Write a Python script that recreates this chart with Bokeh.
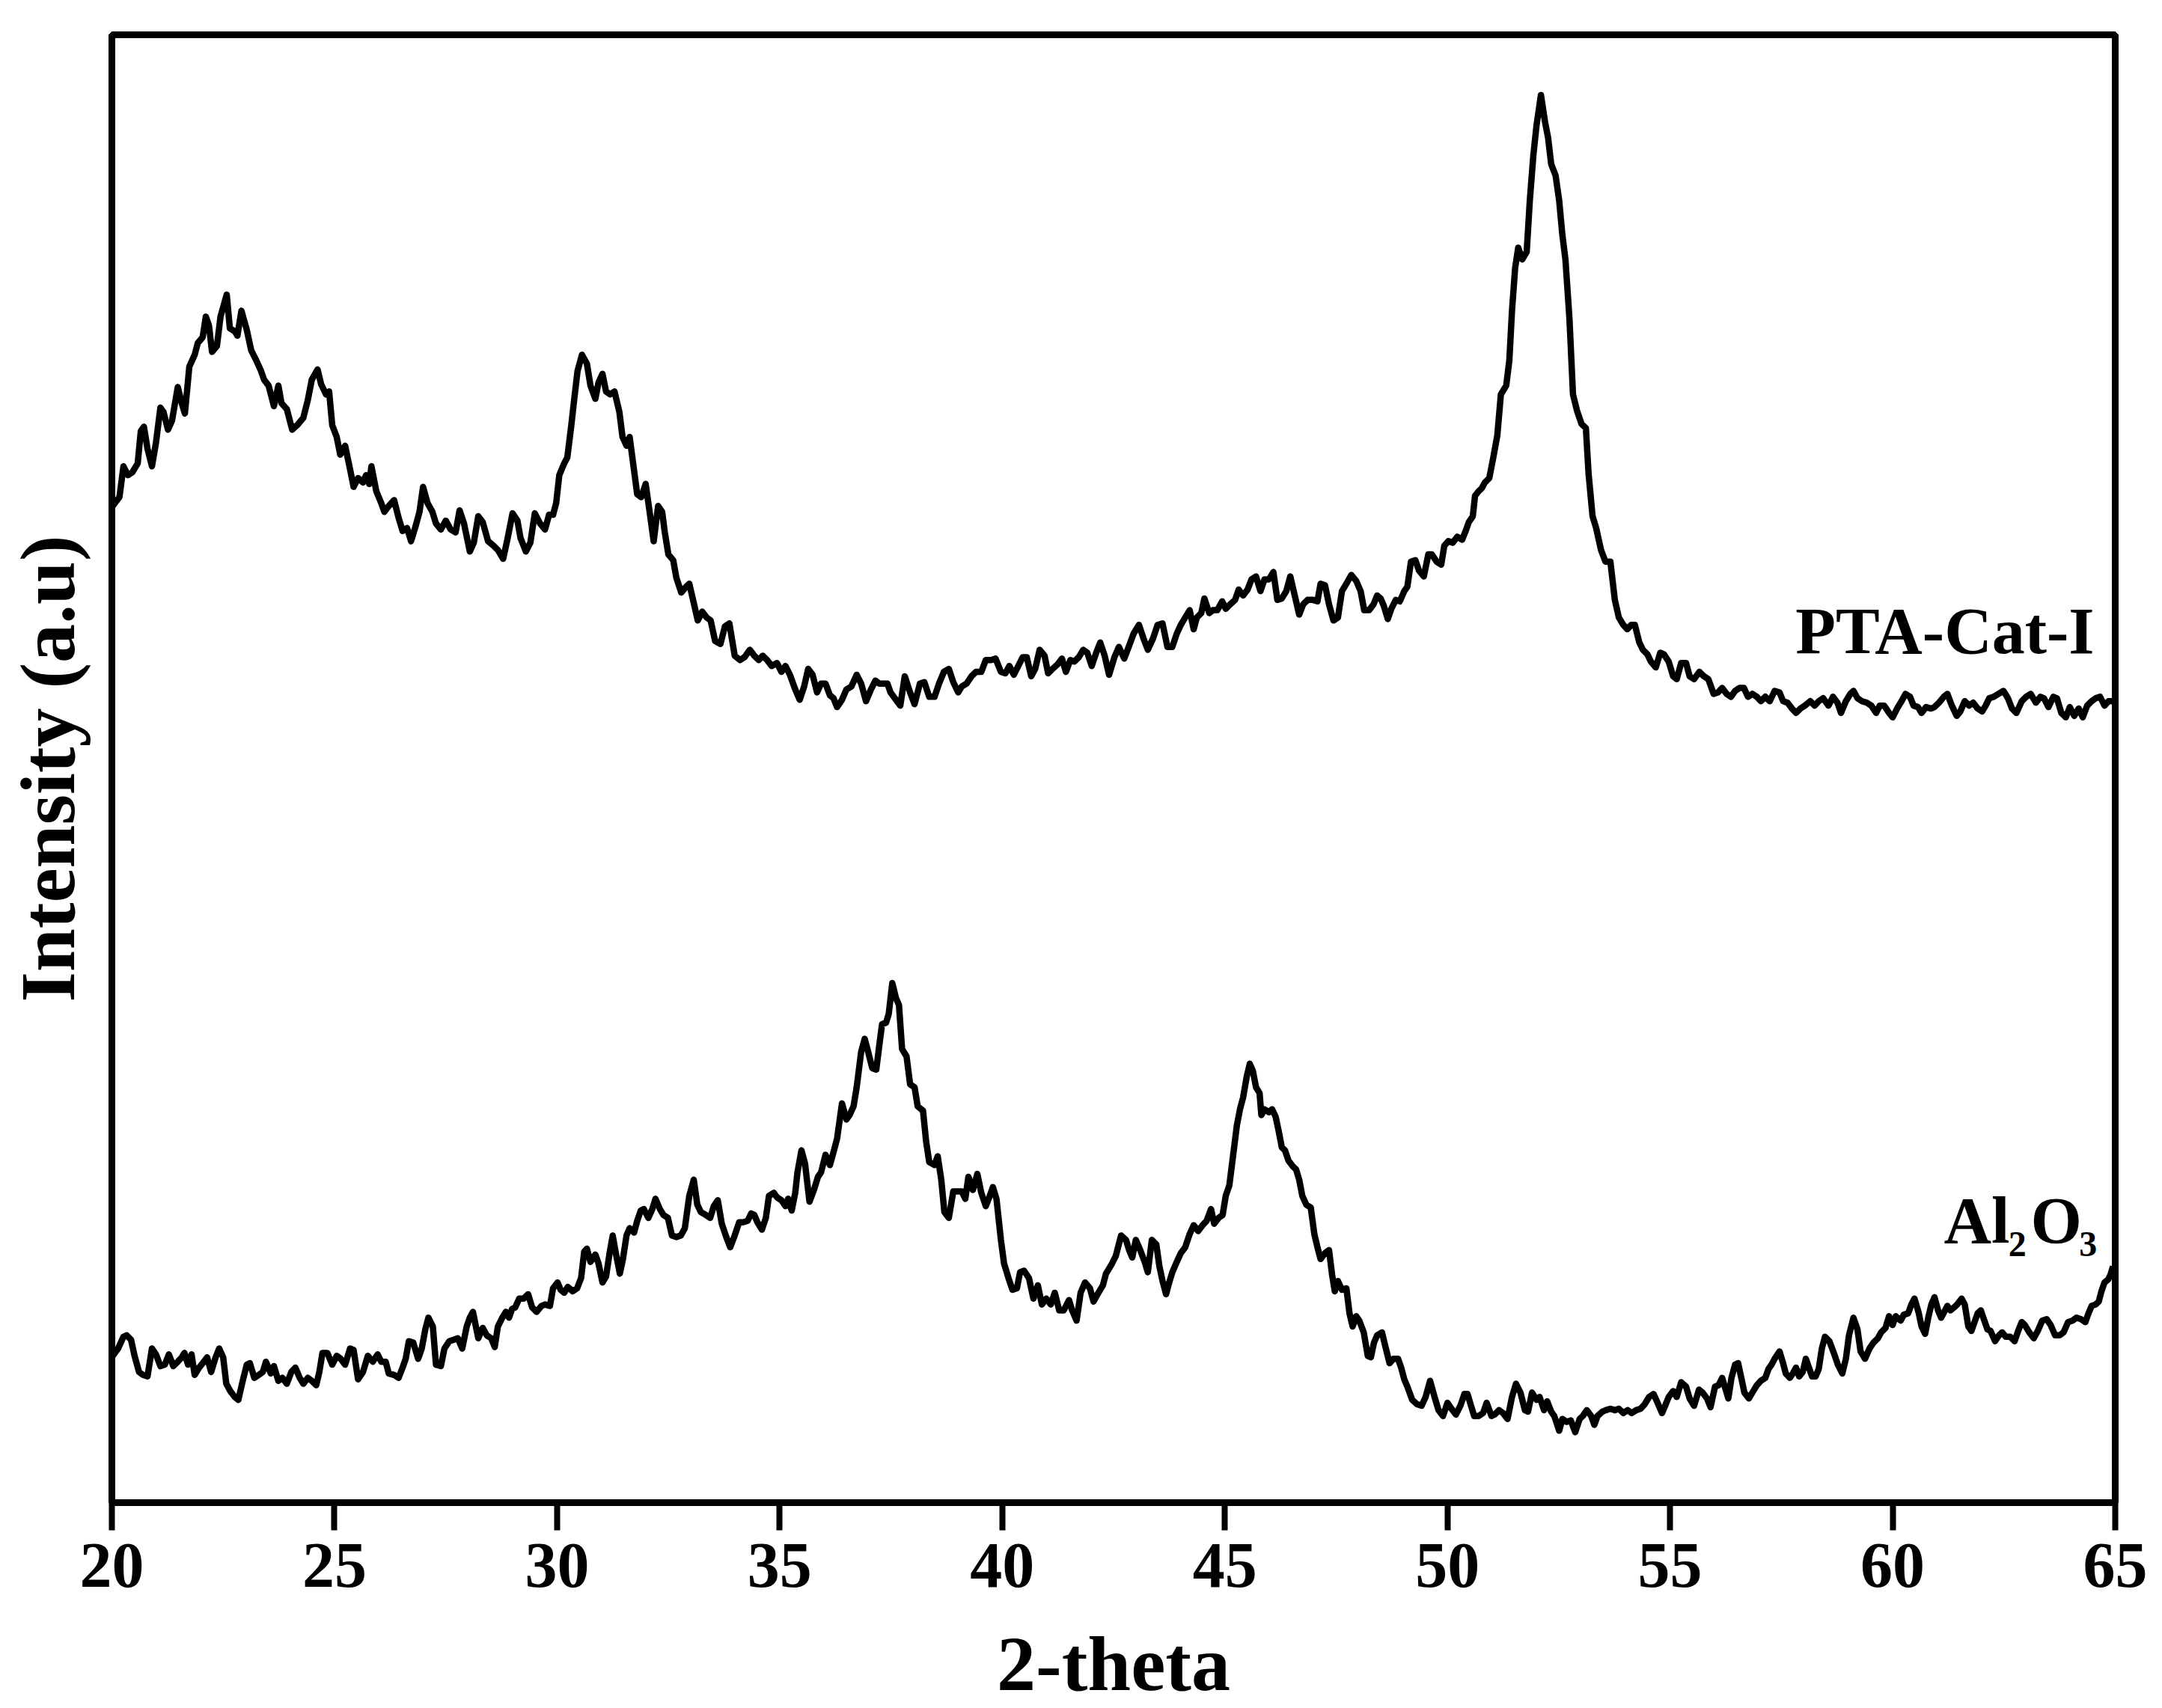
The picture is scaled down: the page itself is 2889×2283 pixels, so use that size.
from bokeh.plotting import figure
from bokeh.models import Range1d, FixedTicker, Label
from bokeh.embed import file_html
from bokeh.resources import INLINE

# ---------------- data ----------------
x_ticks = [20, 25, 30, 35, 40, 45, 50, 55, 60, 65]

two_theta_pta = [
    20.02, 20.17, 20.26, 20.36, 20.46, 20.58, 20.65, 20.72, 20.80, 20.90,
    20.99, 21.09, 21.16, 21.26, 21.35, 21.48, 21.57, 21.64, 21.74, 21.86,
    21.93, 22.04, 22.11, 22.18, 22.25, 22.36, 22.44, 22.58, 22.65, 22.76,
    22.82, 22.91, 23.03, 23.13, 23.23, 23.35, 23.42, 23.52, 23.64, 23.74,
    23.81, 23.93, 24.05, 24.16, 24.30, 24.40, 24.49, 24.62, 24.70, 24.81,
    24.88, 24.95, 25.05, 25.13, 25.24, 25.35, 25.43, 25.53, 25.64, 25.71,
    25.78, 25.83, 25.94, 26.05, 26.12, 26.22, 26.34, 26.44, 26.53, 26.63,
    26.72, 26.82, 26.91, 26.99, 27.09, 27.20, 27.28, 27.39, 27.50, 27.61,
    27.72, 27.81, 27.91, 28.04, 28.13, 28.23, 28.33, 28.45, 28.57, 28.67,
    28.79, 28.89, 29.00, 29.11, 29.18, 29.30, 29.40, 29.50, 29.62, 29.73,
    29.82, 29.91, 29.98, 30.05, 30.16, 30.23, 30.32, 30.39, 30.46, 30.56,
    30.67, 30.75, 30.86, 30.93, 31.02, 31.10, 31.19, 31.29, 31.40, 31.47,
    31.56, 31.63, 31.70, 31.80, 31.89, 31.99, 32.07, 32.17, 32.27, 32.36,
    32.42, 32.50, 32.61, 32.68, 32.79, 32.90, 32.97, 33.07, 33.16, 33.26,
    33.36, 33.45, 33.55, 33.67, 33.77, 33.87, 33.99, 34.11, 34.21, 34.33,
    34.43, 34.53, 34.62, 34.72, 34.82, 34.94, 35.04, 35.13, 35.23, 35.35,
    35.45, 35.55, 35.64, 35.74, 35.84, 35.93, 36.03, 36.13, 36.21, 36.29,
    36.40, 36.50, 36.61, 36.73, 36.83, 36.94, 37.05, 37.15, 37.24, 37.34,
    37.42, 37.49, 37.61, 37.71, 37.81, 37.93, 38.03, 38.15, 38.25, 38.36,
    38.48, 38.58, 38.69, 38.80, 38.90, 39.01, 39.09, 39.20, 39.31, 39.41,
    39.53, 39.63, 39.75, 39.85, 39.97, 40.07, 40.16, 40.26, 40.36, 40.46,
    40.55, 40.65, 40.74, 40.84, 40.95, 41.03, 41.13, 41.24, 41.34, 41.43,
    41.53, 41.62, 41.72, 41.82, 41.91, 42.01, 42.11, 42.20, 42.30, 42.40,
    42.52, 42.62,
    42.74, 42.84, 42.95, 43.07, 43.17, 43.27, 43.39, 43.49, 43.60, 43.71,
    43.82, 43.92, 44.01, 44.11, 44.21, 44.30, 44.37, 44.47, 44.54, 44.65,
    44.73, 44.83, 44.94, 45.02, 45.12, 45.23, 45.31, 45.41, 45.51, 45.60,
    45.70, 45.80, 45.89, 45.99, 46.09, 46.18, 46.28, 46.38, 46.47, 46.57,
    46.67, 46.76, 46.86, 46.98, 47.08, 47.15, 47.25, 47.34, 47.44, 47.54,
    47.63, 47.73, 47.84, 47.95, 48.05, 48.13, 48.24, 48.34, 48.42, 48.50,
    48.57, 48.66, 48.74, 48.84, 48.93, 49.03, 49.10, 49.18, 49.28, 49.36,
    49.47, 49.57, 49.65, 49.76, 49.86, 49.93, 50.02, 50.12, 50.22, 50.33,
    50.41, 50.48, 50.57, 50.62, 50.70, 50.77, 50.84, 50.94, 51.03, 51.12,
    51.20, 51.32, 51.39, 51.45, 51.52, 51.59, 51.68, 51.78, 51.85, 51.93,
    52.00, 52.10, 52.19, 52.26, 52.33, 52.43, 52.51, 52.58, 52.65, 52.74,
    52.82, 52.91, 53.01, 53.11, 53.17, 53.26, 53.34, 53.45, 53.55, 53.66,
    53.76, 53.85, 53.95, 54.04, 54.13, 54.21, 54.31, 54.39, 54.49, 54.57,
    54.68, 54.78, 54.86, 54.97, 55.07, 55.15, 55.25, 55.36, 55.44, 55.54,
    55.66, 55.76, 55.86, 55.98, 56.08, 56.17, 56.27, 56.37, 56.46, 56.56,
    56.66, 56.75, 56.85, 56.95, 57.04, 57.14, 57.24, 57.35, 57.46, 57.54,
    57.64, 57.74, 57.83, 57.93, 58.03, 58.15, 58.25, 58.34, 58.44, 58.56,
    58.66, 58.76, 58.84, 58.95, 59.05, 59.12, 59.21, 59.31, 59.42, 59.52,
    59.63, 59.71, 59.81, 59.92, 60.00, 60.10, 60.20, 60.29, 60.39, 60.47,
    60.57, 60.65, 60.75, 60.86, 60.94, 61.04, 61.15, 61.23, 61.33, 61.44,
    61.52, 61.62, 61.72, 61.81, 61.91, 62.01, 62.09, 62.17, 62.27, 62.38,
    62.49, 62.59, 62.68, 62.78, 62.90, 63.00, 63.10, 63.22, 63.32, 63.40,
    63.50, 63.61, 63.69, 63.79, 63.89, 63.98, 64.08, 64.18, 64.27, 64.37,
    64.47, 64.56, 64.66, 64.76, 64.85, 64.95,
]

intensity_pta = [
    679, 685, 706, 700, 702, 708, 730, 733, 718, 706,
    722, 746, 743, 731, 737, 760, 749, 742, 774, 782,
    790, 794, 808, 802, 784, 788, 808, 823, 800, 798,
    795, 812, 799, 785, 779, 771, 765, 761, 747, 761,
    749, 745, 731, 734, 739, 751, 765, 772, 762, 755,
    757, 734, 726, 714, 720, 704, 692, 698, 695, 700,
    694, 706, 689, 681, 675, 679, 683, 671, 662, 664,
    655, 665, 675, 692, 681, 675, 667, 663, 669, 663,
    661, 676, 667, 648, 654, 672, 668, 655, 652, 649,
    643, 657, 674, 669, 657, 648, 654, 674, 667, 663,
    673, 673, 681, 700, 708, 712, 734, 753, 771, 782,
    776, 761, 752, 763, 769, 757, 755, 757, 743, 726,
    720, 726, 710, 687, 685, 694, 677, 655, 679, 675,
    661, 646, 642, 630, 620, 624, 626, 613, 601, 607,
    603, 601, 587, 585, 597, 599, 577, 574, 576, 581,
    577, 574, 577, 574, 570, 572, 566, 570, 564, 554,
    547, 556, 568, 564, 552, 558, 558, 550, 548, 542,
    547, 554, 556, 564, 558, 546, 554, 560, 558, 558,
    558, 552, 547, 543, 563, 552, 544, 558, 559, 549,
    549, 558, 566, 568, 559, 552, 556, 558, 563, 566,
    566, 574, 574, 575, 566, 565, 570, 564, 570, 576,
    576, 563, 568, 581, 577, 565, 568, 571, 575, 566,
    574, 573, 576, 581, 579, 570, 579, 586, 577, 564,
    576, 583,
    575, 583, 592, 598, 589, 581, 589, 598, 599, 583,
    583, 592, 598, 603, 608, 595, 603, 606, 616, 606,
    608, 608, 614, 609, 612, 615, 622, 618, 622, 629,
    631, 621, 629, 629, 634, 615, 616, 621, 631, 618,
    605, 612, 615, 615, 614, 626, 625, 612, 601, 603,
    621, 626, 632, 628, 621, 608, 608, 612, 618, 616,
    611, 602, 609, 615, 614, 621, 624, 641, 642, 635,
    631, 646, 646, 641, 639, 652, 655, 654, 658, 656,
    662, 668, 672, 686, 689, 691, 695, 698, 712, 727,
    755, 761, 778, 812, 841, 855, 847, 852, 887, 918,
    938, 959, 941, 930, 912, 904, 887, 864, 847, 807,
    755, 744, 735, 732, 701, 672, 664, 649, 641, 641,
    615, 603, 598, 595, 598, 598, 586, 581, 578, 573,
    569, 579, 578, 573, 563, 561, 572, 572, 563, 561,
    566, 563, 561, 551, 552, 555, 551, 549, 553, 555,
    555, 549, 551, 549, 546, 549, 546, 553, 552, 546,
    545, 541, 538, 541, 543, 546, 543, 546, 548, 543,
    549, 545, 538, 546, 551, 553, 548, 546, 545, 543,
    538, 543, 543, 538, 535, 541, 546, 551, 549, 543,
    542, 538, 542, 541, 542, 545, 549, 551, 543, 536,
    539, 546, 543, 545, 541, 539, 543, 548, 549, 551,
    553, 548, 541, 538, 546, 549, 551, 545, 549, 548,
    542, 549, 548, 538, 535, 542, 536, 541, 535, 543,
    546, 548, 549, 543, 546, 546,
]

two_theta_al2o3 = [
    20.02, 20.14, 20.26, 20.33, 20.43, 20.51, 20.61, 20.70, 20.80, 20.90,
    20.99, 21.09, 21.19, 21.28, 21.38, 21.48, 21.57, 21.63, 21.71, 21.79,
    21.86, 21.96, 22.04, 22.14, 22.23, 22.33, 22.41, 22.50, 22.57, 22.66,
    22.76, 22.84, 22.94, 23.03, 23.10, 23.20, 23.30, 23.39, 23.46, 23.57,
    23.64, 23.74, 23.83, 23.93, 24.03, 24.12, 24.22, 24.30, 24.40, 24.49,
    24.59, 24.66, 24.73, 24.84, 24.95, 25.05, 25.14, 25.24, 25.35, 25.43,
    25.53, 25.64, 25.75, 25.86, 25.97, 26.05, 26.15, 26.22, 26.34, 26.44,
    26.53, 26.60, 26.67, 26.77, 26.88, 26.96, 27.04, 27.11, 27.21, 27.28,
    27.39, 27.47, 27.58, 27.68, 27.77, 27.87, 27.97, 28.04, 28.11, 28.23,
    28.33, 28.42, 28.52, 28.60, 28.67, 28.77, 28.85, 28.92, 28.99, 29.06,
    29.15, 29.25, 29.35, 29.44, 29.54, 29.65, 29.73, 29.84, 29.91, 30.01,
    30.08, 30.16, 30.24, 30.35, 30.45, 30.54, 30.61, 30.67, 30.75, 30.86,
    30.93, 31.02, 31.10, 31.18, 31.25, 31.32, 31.41, 31.48, 31.56, 31.63,
    31.73, 31.80, 31.88, 31.95, 32.05, 32.14, 32.21, 32.31, 32.39, 32.49,
    32.58, 32.68, 32.78, 32.87, 32.97, 33.07, 33.15, 33.23, 33.34, 33.44,
    33.52, 33.61, 33.70, 33.80, 33.89, 33.99, 34.09, 34.18, 34.28, 34.36,
    34.43, 34.50, 34.60, 34.69, 34.76, 34.87, 34.94, 35.04, 35.13, 35.19,
    35.27, 35.35, 35.40, 35.49, 35.57, 35.67, 35.77, 35.86, 35.93, 36.03,
    36.13, 36.22, 36.29, 36.40, 36.50, 36.57, 36.66, 36.73, 36.83, 36.91,
    36.98, 37.08, 37.17, 37.24, 37.30, 37.39, 37.45, 37.53, 37.61, 37.68,
    37.75, 37.85, 37.93, 38.03, 38.10, 38.22, 38.29, 38.36, 38.48, 38.55,
    38.63, 38.70, 38.80, 38.90, 38.99, 39.09, 39.17, 39.24, 39.34, 39.44,
    39.53, 39.63, 39.72, 39.79, 39.87, 39.97, 40.04, 40.14, 40.23, 40.33,
    40.40, 40.49, 40.60, 40.70, 40.80, 40.89, 40.99, 41.09, 41.18, 41.28,
    41.38, 41.50, 41.57, 41.67, 41.76, 41.86, 41.97, 42.05, 42.16, 42.26,
    42.33, 42.45, 42.55, 42.67,
    42.78, 42.85, 42.92, 43.00, 43.10, 43.20, 43.27, 43.36, 43.46, 43.53,
    43.60, 43.68, 43.75, 43.82, 43.92, 44.01, 44.11, 44.21, 44.30, 44.40,
    44.50, 44.59, 44.69, 44.76, 44.86, 44.95, 45.02, 45.10, 45.20, 45.27,
    45.34, 45.41, 45.49, 45.56, 45.63, 45.70, 45.78, 45.82, 45.89, 45.99,
    46.06, 46.14, 46.21, 46.28, 46.35, 46.43, 46.53, 46.60, 46.67, 46.74,
    46.83, 46.93, 47.01, 47.08, 47.15, 47.25, 47.34, 47.41, 47.47, 47.54,
    47.63, 47.73, 47.80, 47.87, 47.95, 48.02, 48.12, 48.21, 48.28, 48.35,
    48.42, 48.53, 48.60, 48.70, 48.79, 48.89, 48.96, 49.03, 49.10, 49.21,
    49.32, 49.42, 49.51, 49.61, 49.71, 49.80, 49.90, 50.00, 50.09, 50.19,
    50.29, 50.38, 50.45, 50.52, 50.60, 50.70, 50.80, 50.88, 50.99, 51.06,
    51.16, 51.25, 51.35, 51.45, 51.54, 51.64, 51.74, 51.81, 51.90, 52.00,
    52.07, 52.17, 52.24, 52.33, 52.40, 52.51, 52.58, 52.68, 52.77, 52.87,
    52.97, 53.04, 53.13, 53.23, 53.30, 53.37, 53.48, 53.56, 53.66, 53.76,
    53.85, 53.95, 54.05, 54.14, 54.24, 54.34, 54.43, 54.53, 54.63, 54.72,
    54.82, 54.89, 54.97, 55.07, 55.15, 55.25, 55.36, 55.44, 55.54, 55.65,
    55.73, 55.83, 55.91, 56.01, 56.09, 56.17, 56.24, 56.31, 56.38, 56.46,
    56.53, 56.60, 56.67, 56.77, 56.85, 56.95, 57.04, 57.14, 57.21, 57.28,
    57.35, 57.46, 57.53, 57.60, 57.69, 57.76, 57.83, 57.90, 57.98, 58.05,
    58.12, 58.19, 58.27, 58.34, 58.41, 58.48, 58.58, 58.69, 58.77, 58.87,
    58.95, 59.02, 59.12, 59.21, 59.28, 59.38, 59.48, 59.57, 59.67, 59.74,
    59.84, 59.92, 60.00, 60.07, 60.18, 60.25, 60.35, 60.42, 60.49, 60.58,
    60.65, 60.73, 60.80, 60.87, 60.94, 61.02, 61.09, 61.16, 61.23, 61.30,
    61.38, 61.45, 61.55, 61.62, 61.70, 61.77, 61.84, 61.91, 61.98, 62.06,
    62.13, 62.20, 62.30, 62.39, 62.46, 62.54, 62.64, 62.74, 62.82, 62.90,
    62.97, 63.07, 63.17, 63.26, 63.36, 63.46, 63.55, 63.65, 63.75, 63.84,
    63.94, 64.04, 64.13, 64.23, 64.33, 64.40, 64.47, 64.56, 64.63, 64.69,
    64.76, 64.84, 64.89, 64.95,
]

intensity_al2o3 = [
    100, 105, 113, 114, 111, 100, 89, 87, 86, 105,
    101, 93, 94, 101, 93, 96, 99, 102, 94, 101,
    87, 92, 95, 99, 89, 99, 105, 99, 81, 76,
    72, 70, 83, 94, 95, 85, 87, 89, 96, 88,
    93, 83, 85, 81, 89, 92, 85, 81, 85, 83,
    80, 89, 102, 102, 94, 100, 98, 94, 105, 104,
    84, 89, 100, 96, 101, 96, 96, 88, 87, 85,
    92, 98, 110, 109, 98, 105, 118, 126, 120, 94,
    93, 105, 110, 111, 112, 105, 120, 126, 130, 112,
    119, 114, 112, 106, 120, 126, 130, 126, 132, 133,
    139, 139, 142, 133, 130, 134, 135, 134, 146, 150,
    145, 143, 147, 144, 146, 153, 171, 173, 164, 169,
    163, 150, 154, 170, 182, 170, 156, 166, 182, 187,
    184, 192, 199, 200, 194, 200, 207, 200, 196, 194,
    182, 181, 182, 187, 209, 220, 203, 198, 196, 194,
    202, 206, 190, 181, 174, 182, 191, 191, 192, 197,
    196, 191, 186, 194, 209, 211, 208, 206, 202, 207,
    199, 211, 225, 240, 231, 205, 213, 222, 225, 237,
    230, 240, 248, 272, 261, 264, 270, 283, 307, 316,
    308, 296, 295, 312, 326, 327, 333, 354, 344, 339,
    309, 304, 285, 283, 270, 267, 246, 232, 230, 236,
    220, 198, 194, 212, 212, 212, 207, 222, 213, 224,
    211, 202, 209, 215, 207, 179, 163, 153, 145, 146,
    157, 158, 153, 139, 148, 135, 139, 135, 143, 131,
    131, 138, 131, 124, 143, 150, 146, 137, 143, 148,
    156, 162, 168, 182,
    179, 172, 167, 179, 172, 164, 157, 179, 176, 161,
    151, 142, 150, 157, 164, 170, 174, 183, 189, 185,
    189, 192, 200, 190, 194, 196, 209, 216, 240, 257,
    268, 276, 290, 299, 294, 283, 279, 264, 268, 266,
    268, 263, 253, 242, 240, 233, 229, 227, 220, 209,
    203, 201, 183, 174, 166, 170, 172, 155, 144, 151,
    145, 146, 129, 120, 127, 124, 116, 100, 99, 109,
    114, 116, 107, 95, 98, 98, 92, 84, 79, 70,
    67, 66, 72, 83, 72, 63, 59, 68, 64, 60,
    66, 74, 74, 67, 59, 59, 61, 68, 59, 60,
    63, 61, 57, 72, 81, 75, 63, 62, 75, 70,
    72, 63, 69, 62, 59, 49, 57, 55, 56, 48,
    57, 59, 63, 59, 53, 59, 62, 63, 64, 63,
    64, 61, 63, 61, 63, 64, 67, 72, 74, 68,
    61, 66, 72, 76, 72, 82, 79, 71, 66, 77,
    75, 71, 65, 79, 80, 85, 78, 71, 85, 94,
    95, 85, 75, 71, 75, 80, 83, 85, 91, 94,
    98, 103, 96, 88, 85, 88, 92, 86, 89, 98,
    92, 86, 86, 91, 105, 113, 110, 101, 94, 88,
    98, 114, 126, 118, 103, 98, 105, 109, 112, 116,
    119, 127, 121, 127, 124, 128, 129, 135, 139, 130,
    120, 115, 126, 135, 140, 131, 126, 130, 134, 131,
    133, 135, 139, 135, 120, 117, 123, 129, 131, 124,
    118, 117, 110, 114, 116, 113, 113, 110, 117, 123,
    121, 116, 112, 117, 124, 125, 121, 114, 114, 116,
    123, 124, 126, 125, 123, 129, 134, 135, 137, 144,
    150, 152, 155, 161,
]

# ---------------- figure ----------------
SERIF = "Liberation Serif"

p = figure(
    width=2880, height=2283,
    output_backend="svg", toolbar_location=None,
    x_range=Range1d(20, 65), y_range=Range1d(0, 1000),
    min_border_left=149, min_border_right=54,
    min_border_top=46, min_border_bottom=275,
    background_fill_color="white", border_fill_color="white",
)
p.grid.visible = False
p.outline_line_color = "black"
p.outline_line_width = 9
p.outline_line_alpha = 1.0

p.line(two_theta_pta, intensity_pta, line_color="black", line_width=8.5,
       line_join="round")
p.line(two_theta_al2o3, intensity_al2o3, line_color="black", line_width=8.5,
       line_join="round")

# x axis
xa = p.xaxis[0]
xa.ticker = FixedTicker(ticks=x_ticks, minor_ticks=[])
xa.axis_line_color = "black"
xa.axis_line_width = 9
xa.major_tick_line_color = "black"
xa.major_tick_line_width = 8
xa.major_tick_out = 37
xa.major_tick_in = 0
xa.minor_tick_line_color = None
xa.major_label_text_font = SERIF
xa.major_label_text_font_style = "bold"
xa.major_label_text_font_size = "86px"
xa.major_label_text_color = "black"
xa.major_label_standoff = 18
xa.axis_label = "2-theta"
xa.axis_label_text_font = SERIF
xa.axis_label_text_font_style = "bold"
xa.axis_label_text_font_size = "104px"
xa.axis_label_text_color = "black"
xa.axis_label_standoff = 42

# y axis
ya = p.yaxis[0]
ya.ticker = FixedTicker(ticks=[], minor_ticks=[])
ya.axis_line_color = "black"
ya.axis_line_width = 9
ya.major_tick_line_color = None
ya.minor_tick_line_color = None
ya.major_tick_out = 0
ya.major_tick_in = 0
ya.major_label_standoff = 0
ya.major_label_text_font_size = "0px"
ya.axis_label = "Intensity (a.u)"
ya.axis_label_text_font = SERIF
ya.axis_label_text_font_style = "bold"
ya.axis_label_text_font_size = "104px"
ya.axis_label_text_color = "black"
ya.axis_label_standoff = 29


def add_label(x, y, text, size, align="left"):
    p.add_layout(Label(x=x, y=y, text=text, text_font=SERIF,
                       text_font_style="bold", text_font_size=size,
                       text_color="black", text_align=align,
                       text_baseline="alphabetic"))


# series labels
add_label(64.53, 594, "PTA-Cat-I", "88px", align="right")
add_label(61.15, 192.4, "Al", "88px")
add_label(62.60, 176.1, "2", "48px")
add_label(63.10, 192.4, "O", "88px")
add_label(64.19, 176.1, "3", "48px")

open("out.html", "w").write(file_html(p, INLINE))
